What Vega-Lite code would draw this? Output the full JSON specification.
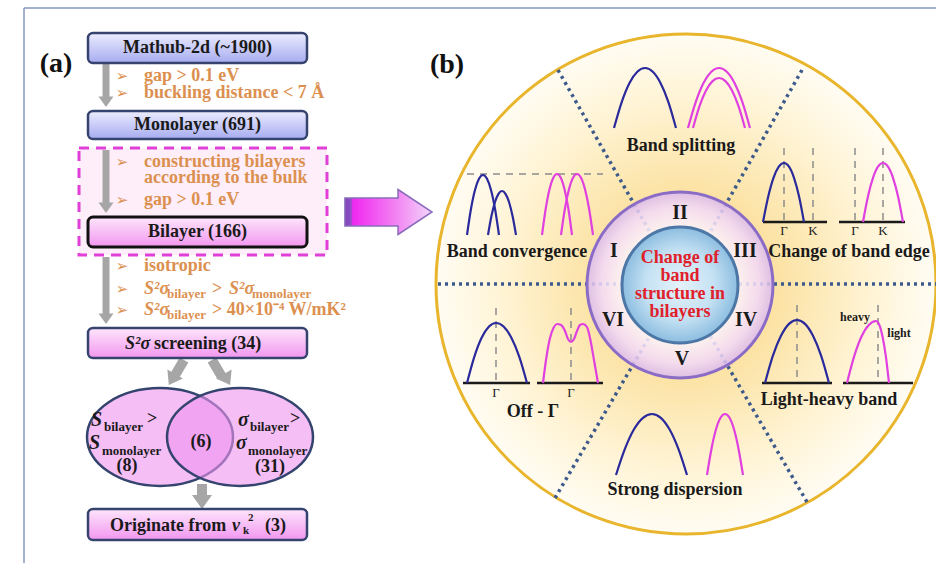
{
"$schema": "https://vega.github.io/schema/vega-lite/v6.json",
"width": 936, "height": 563, "padding": 0, "autosize": {"type": "none"},
"background": "white",
"config": {"view": {"stroke": null}},
"datasets": {
"frame": [{"x":24,"y":8,"x2":936,"y2":8},{"x":24,"y":8,"x2":24,"y2":563}],
"bigc": [{"x":686,"y":284}],
"ring": [{"x":680,"y":285}],
"core": [{"x":680,"y":285}],
"dividers": [{"x":558,"y":70,"x2":651,"y2":234},{"x":802,"y":70,"x2":709,"y2":234},{"x":555,"y":498,"x2":651,"y2":334},{"x":807,"y":502,"x2":709,"y2":334},{"x":438,"y":284,"x2":936,"y2":284}],
"dashbox": [{"x":79,"y":148,"x2":327,"y2":255}],
"blueboxes": [{"x":88,"y":33,"x2":307,"y2":63},{"x":88,"y":111,"x2":307,"y2":139}],
"bilbox": [{"x":88,"y":217,"x2":307,"y2":247}],
"pinkboxes": [{"x":88,"y":328,"x2":307,"y2":358},{"x":88,"y":509,"x2":307,"y2":540}],
"shafts": [{"x":106,"y":64,"x2":106,"y2":99},{"x":106,"y":150,"x2":106,"y2":205},{"x":106,"y":257,"x2":106,"y2":315}],
"shaftsWide": [{"x":184,"y":360,"x2":174,"y2":377},{"x":212,"y":360,"x2":222,"y2":377},{"x":202,"y":484,"x2":202,"y2":500}],
"heads": [{"x":106,"y":101.75},{"x":106,"y":207.75},{"x":106,"y":318.75}],
"headBottom": [{"x":202,"y":502}],
"headLeft": [{"x":172,"y":379.5}],
"headRight": [{"x":227,"y":379.5}],
"ellipses": [{"x":160,"y":437},{"x":240,"y":437}],
"bigArrow": [{"x":409.5,"y":212}],
"baselines": [{"x":763,"y":222,"x2":827,"y2":222},{"x":839,"y":222,"x2":905,"y2":222},{"x":463,"y":383,"x2":530,"y2":383},{"x":537,"y":383,"x2":603,"y2":383},{"x":762,"y":383,"x2":832,"y2":383},{"x":843,"y":383,"x2":913,"y2":383}],
"dashes": [{"x":784,"y":148,"x2":784,"y2":222},{"x":813,"y":148,"x2":813,"y2":222},{"x":855,"y":148,"x2":855,"y2":222},{"x":883,"y":148,"x2":883,"y2":222},{"x":496,"y":308,"x2":496,"y2":383},{"x":571,"y":308,"x2":571,"y2":383},{"x":797,"y":305,"x2":797,"y2":383},{"x":878,"y":305,"x2":878,"y2":383},{"x":467,"y":174,"x2":603,"y2":174}],
"bands": [
{"id":"A1","layer":"mono","x":614,"y":128},{"id":"A1","layer":"mono","x":621.8,"y":101.8},{"id":"A1","layer":"mono","x":629.5,"y":83},{"id":"A1","layer":"mono","x":637.3,"y":71.8},{"id":"A1","layer":"mono","x":645,"y":68},{"id":"A1","layer":"mono","x":652.8,"y":71.8},{"id":"A1","layer":"mono","x":660.5,"y":83},{"id":"A1","layer":"mono","x":668.3,"y":101.8},{"id":"A1","layer":"mono","x":676,"y":128},
{"id":"A2","layer":"bi","x":688,"y":128},{"id":"A2","layer":"bi","x":695.8,"y":101.8},{"id":"A2","layer":"bi","x":703.5,"y":83},{"id":"A2","layer":"bi","x":711.3,"y":71.8},{"id":"A2","layer":"bi","x":719,"y":68},{"id":"A2","layer":"bi","x":726.8,"y":71.8},{"id":"A2","layer":"bi","x":734.5,"y":83},{"id":"A2","layer":"bi","x":742.3,"y":101.8},{"id":"A2","layer":"bi","x":750,"y":128},
{"id":"A3","layer":"bi","x":693,"y":128},{"id":"A3","layer":"bi","x":699.5,"y":106.1},{"id":"A3","layer":"bi","x":706,"y":90.5},{"id":"A3","layer":"bi","x":712.5,"y":81.1},{"id":"A3","layer":"bi","x":719,"y":78},{"id":"A3","layer":"bi","x":725.5,"y":81.1},{"id":"A3","layer":"bi","x":732,"y":90.5},{"id":"A3","layer":"bi","x":738.5,"y":106.1},{"id":"A3","layer":"bi","x":745,"y":128},
{"id":"B1","layer":"mono","x":467,"y":235},{"id":"B1","layer":"mono","x":471,"y":208.8},{"id":"B1","layer":"mono","x":475,"y":190},{"id":"B1","layer":"mono","x":479,"y":178.8},{"id":"B1","layer":"mono","x":483,"y":175},{"id":"B1","layer":"mono","x":487,"y":178.8},{"id":"B1","layer":"mono","x":491,"y":190},{"id":"B1","layer":"mono","x":495,"y":208.8},{"id":"B1","layer":"mono","x":499,"y":235},
{"id":"B2","layer":"mono","x":488,"y":235},{"id":"B2","layer":"mono","x":491.5,"y":215.8},{"id":"B2","layer":"mono","x":495,"y":202},{"id":"B2","layer":"mono","x":498.5,"y":193.8},{"id":"B2","layer":"mono","x":502,"y":191},{"id":"B2","layer":"mono","x":505.5,"y":193.8},{"id":"B2","layer":"mono","x":509,"y":202},{"id":"B2","layer":"mono","x":512.5,"y":215.8},{"id":"B2","layer":"mono","x":516,"y":235},
{"id":"B3","layer":"bi","x":542,"y":235},{"id":"B3","layer":"bi","x":545.8,"y":208.3},{"id":"B3","layer":"bi","x":549.5,"y":189.3},{"id":"B3","layer":"bi","x":553.3,"y":177.8},{"id":"B3","layer":"bi","x":557,"y":174},{"id":"B3","layer":"bi","x":560.8,"y":177.8},{"id":"B3","layer":"bi","x":564.5,"y":189.3},{"id":"B3","layer":"bi","x":568.3,"y":208.3},{"id":"B3","layer":"bi","x":572,"y":235},
{"id":"B4","layer":"bi","x":561,"y":235},{"id":"B4","layer":"bi","x":565,"y":208.3},{"id":"B4","layer":"bi","x":569,"y":189.3},{"id":"B4","layer":"bi","x":573,"y":177.8},{"id":"B4","layer":"bi","x":577,"y":174},{"id":"B4","layer":"bi","x":581,"y":177.8},{"id":"B4","layer":"bi","x":585,"y":189.3},{"id":"B4","layer":"bi","x":589,"y":208.3},{"id":"B4","layer":"bi","x":593,"y":235},
{"id":"C1","layer":"mono","x":763,"y":222},{"id":"C1","layer":"mono","x":768.3,"y":196.2},{"id":"C1","layer":"mono","x":773.5,"y":177.8},{"id":"C1","layer":"mono","x":778.8,"y":166.7},{"id":"C1","layer":"mono","x":784,"y":163},{"id":"C1","layer":"mono","x":789,"y":166.7},{"id":"C1","layer":"mono","x":794,"y":177.8},{"id":"C1","layer":"mono","x":799,"y":196.2},{"id":"C1","layer":"mono","x":804,"y":222},
{"id":"C2","layer":"bi","x":863,"y":222},{"id":"C2","layer":"bi","x":868,"y":196.2},{"id":"C2","layer":"bi","x":873,"y":177.8},{"id":"C2","layer":"bi","x":878,"y":166.7},{"id":"C2","layer":"bi","x":883,"y":163},{"id":"C2","layer":"bi","x":888,"y":166.7},{"id":"C2","layer":"bi","x":893,"y":177.8},{"id":"C2","layer":"bi","x":898,"y":196.2},{"id":"C2","layer":"bi","x":903,"y":222},
{"id":"D1","layer":"mono","x":467,"y":383},{"id":"D1","layer":"mono","x":474.3,"y":356.8},{"id":"D1","layer":"mono","x":481.5,"y":338},{"id":"D1","layer":"mono","x":488.8,"y":326.8},{"id":"D1","layer":"mono","x":496,"y":323},{"id":"D1","layer":"mono","x":503.8,"y":326.8},{"id":"D1","layer":"mono","x":511.5,"y":338},{"id":"D1","layer":"mono","x":519.3,"y":356.8},{"id":"D1","layer":"mono","x":527,"y":383},
{"id":"D2","layer":"bi","x":543,"y":383},{"id":"D2","layer":"bi","x":546,"y":360},{"id":"D2","layer":"bi","x":550,"y":338},{"id":"D2","layer":"bi","x":554,"y":327},{"id":"D2","layer":"bi","x":557,"y":324},{"id":"D2","layer":"bi","x":561,"y":325},{"id":"D2","layer":"bi","x":565,"y":331},{"id":"D2","layer":"bi","x":568,"y":339},{"id":"D2","layer":"bi","x":571,"y":342},{"id":"D2","layer":"bi","x":574,"y":339},{"id":"D2","layer":"bi","x":577,"y":331},{"id":"D2","layer":"bi","x":580,"y":325},{"id":"D2","layer":"bi","x":583,"y":324},{"id":"D2","layer":"bi","x":587,"y":327},{"id":"D2","layer":"bi","x":590,"y":338},{"id":"D2","layer":"bi","x":594,"y":360},{"id":"D2","layer":"bi","x":598,"y":383},
{"id":"E1","layer":"mono","x":765,"y":383},{"id":"E1","layer":"mono","x":773,"y":355.4},{"id":"E1","layer":"mono","x":781,"y":335.8},{"id":"E1","layer":"mono","x":789,"y":323.9},{"id":"E1","layer":"mono","x":797,"y":320},{"id":"E1","layer":"mono","x":805,"y":323.9},{"id":"E1","layer":"mono","x":813,"y":335.8},{"id":"E1","layer":"mono","x":821,"y":355.4},{"id":"E1","layer":"mono","x":829,"y":383},
{"id":"E2","layer":"bi","x":847,"y":383},{"id":"E2","layer":"bi","x":854.3,"y":355.9},{"id":"E2","layer":"bi","x":861.5,"y":336.5},{"id":"E2","layer":"bi","x":868.8,"y":324.9},{"id":"E2","layer":"bi","x":876,"y":321},{"id":"E2","layer":"bi","x":879.3,"y":324.9},{"id":"E2","layer":"bi","x":882.5,"y":336.5},{"id":"E2","layer":"bi","x":885.8,"y":355.9},{"id":"E2","layer":"bi","x":889,"y":383},
{"id":"F1","layer":"mono","x":616,"y":475},{"id":"F1","layer":"mono","x":625,"y":448.7},{"id":"F1","layer":"mono","x":634,"y":429.3},{"id":"F1","layer":"mono","x":643,"y":417.8},{"id":"F1","layer":"mono","x":652,"y":414},{"id":"F1","layer":"mono","x":660.8,"y":417.8},{"id":"F1","layer":"mono","x":669.5,"y":429.3},{"id":"F1","layer":"mono","x":678.3,"y":448.7},{"id":"F1","layer":"mono","x":687,"y":475},
{"id":"F2","layer":"bi","x":707,"y":475},{"id":"F2","layer":"bi","x":711.5,"y":448.7},{"id":"F2","layer":"bi","x":716,"y":429.3},{"id":"F2","layer":"bi","x":720.5,"y":417.8},{"id":"F2","layer":"bi","x":725,"y":414},{"id":"F2","layer":"bi","x":729.5,"y":417.8},{"id":"F2","layer":"bi","x":734,"y":429.3},{"id":"F2","layer":"bi","x":738.5,"y":448.7},{"id":"F2","layer":"bi","x":743,"y":475}
],
"labels18": [{"x":197.5,"y":48,"t":"Mathub-2d (~1900)"},{"x":197.5,"y":125,"t":"Monolayer (691)"},{"x":197.5,"y":232,"t":"Bilayer (166)"},{"x":201,"y":442,"t":"(6)"},{"x":127,"y":466,"t":"(8)"},{"x":270,"y":467,"t":"(31)"},{"x":681,"y":146,"t":"Band splitting"},{"x":517,"y":252,"t":"Band convergence"},{"x":849,"y":252,"t":"Change of band edge"},{"x":533,"y":412,"t":"Off - Γ"},{"x":829,"y":400,"t":"Light-heavy band"},{"x":675,"y":490,"t":"Strong dispersion"}],
"left18": [{"x":154,"y":344,"t":"screening (34)"},{"x":110,"y":526,"t":"Originate from"},{"x":265,"y":526,"t":"(3)"},{"x":147,"y":419,"t":">"},{"x":290,"y":419,"t":">"}],
"italic20": [{"x":91,"y":420,"t":"S"},{"x":89,"y":443,"t":"S"},{"x":238,"y":420,"t":"σ"},{"x":236,"y":443,"t":"σ"}],
"italic18": [{"x":125,"y":344,"t":"S²σ"},{"x":232,"y":526,"t":"ν"}],
"sub13": [{"x":104,"y":427,"t":"bilayer"},{"x":102,"y":451,"t":"monolayer"},{"x":250,"y":427,"t":"bilayer"},{"x":248,"y":451,"t":"monolayer"}],
"tiny12": [{"x":243,"y":531,"t":"k"},{"x":248,"y":518,"t":"2"}],
"bullets": [{"x":122,"y":76,"t":"➢"},{"x":122,"y":93,"t":"➢"},{"x":122,"y":162,"t":"➢"},{"x":122,"y":200,"t":"➢"},{"x":122,"y":266,"t":"➢"},{"x":122,"y":289,"t":"➢"},{"x":122,"y":310,"t":"➢"}],
"orange18": [{"x":144,"y":76,"t":"gap > 0.1 eV"},{"x":144,"y":93,"t":"buckling distance < 7 Å"},{"x":144,"y":162,"t":"constructing bilayers"},{"x":144,"y":178,"t":"according to the bulk"},{"x":144,"y":200,"t":"gap > 0.1 eV"},{"x":144,"y":266,"t":"isotropic"},{"x":212,"y":289,"t":">"},{"x":212,"y":310,"t":"> 40×10⁻⁴ W/mK²"}],
"orangeItalic": [{"x":144,"y":289,"t":"S²σ"},{"x":229,"y":289,"t":"S²σ"},{"x":144,"y":310,"t":"S²σ"}],
"orangeSub": [{"x":167,"y":294,"t":"bilayer"},{"x":252,"y":294,"t":"monolayer"},{"x":167,"y":315,"t":"bilayer"}],
"panels": [{"x":56,"y":64,"t":"(a)"},{"x":447,"y":65,"t":"(b)"}],
"roman": [{"x":680,"y":213,"t":"II"},{"x":614,"y":251,"t":"I"},{"x":745,"y":251,"t":"III"},{"x":613,"y":320,"t":"VI"},{"x":746,"y":320,"t":"IV"},{"x":682,"y":359,"t":"V"}],
"center": [{"x":680,"y":258,"t":"Change of"},{"x":680,"y":276,"t":"band"},{"x":680,"y":294,"t":"structure in"},{"x":680,"y":312,"t":"bilayers"}],
"kpts": [{"x":784,"y":231,"t":"Γ"},{"x":813,"y":231,"t":"K"},{"x":855,"y":231,"t":"Γ"},{"x":883,"y":231,"t":"K"},{"x":496,"y":393,"t":"Γ"},{"x":571,"y":393,"t":"Γ"}],
"hl": [{"x":855,"y":317,"t":"heavy"},{"x":899,"y":333,"t":"light"}]
},
"encoding": {
"x": {"field":"x","type":"quantitative","scale":{"domain":[0,936],"nice":false,"zero":false},"axis":null},
"y": {"field":"y","type":"quantitative","scale":{"domain":[0,563],"nice":false,"zero":false,"reverse":true},"axis":null}
},
"layer": [
{"data":{"name":"frame"},"mark":{"type":"rule","color":"#8496c6","strokeWidth":1.5},"encoding":{"x2":{"field":"x2"},"y2":{"field":"y2"}}},
{"data":{"name":"bigc"},"mark":{"type":"point","shape":"circle","size":250000,"filled":true,"opacity":1,"fill":{"gradient":"radial","stops":[{"offset":0,"color":"#f8cf78"},{"offset":0.4,"color":"#fce4a8"},{"offset":0.75,"color":"#fff4d6"},{"offset":1,"color":"#fffcf3"}]},"stroke":"#e8b52c","strokeWidth":3}},
{"data":{"name":"dividers"},"mark":{"type":"rule","color":"#3e5a8c","strokeWidth":3.5,"strokeDash":[3,4]},"encoding":{"x2":{"field":"x2"},"y2":{"field":"y2"}}},
{"data":{"name":"ring"},"mark":{"type":"point","shape":"circle","size":34596,"filled":true,"opacity":1,"fillOpacity":0.85,"fill":{"gradient":"radial","stops":[{"offset":0,"color":"#ffffff"},{"offset":0.62,"color":"#fdf6fe"},{"offset":0.85,"color":"#f2d9fa"},{"offset":1,"color":"#d9b8ee"}]},"stroke":"#8a6cc6","strokeWidth":3}},
{"data":{"name":"core"},"mark":{"type":"point","shape":"circle","size":13456,"filled":true,"opacity":1,"fill":{"gradient":"radial","stops":[{"offset":0,"color":"#e4f2fa"},{"offset":0.6,"color":"#c4e1f3"},{"offset":1,"color":"#8cbde0"}]},"stroke":"#4c77a6","strokeWidth":3}},
{"data":{"name":"dashbox"},"mark":{"type":"rect","fill":"#fdeefa","stroke":"#e040d8","strokeWidth":3,"strokeDash":[10,7]},"encoding":{"x2":{"field":"x2"},"y2":{"field":"y2"}}},
{"data":{"name":"shafts"},"mark":{"type":"rule","color":"#a6a6a6","strokeWidth":7},"encoding":{"x2":{"field":"x2"},"y2":{"field":"y2"}}},
{"data":{"name":"shaftsWide"},"mark":{"type":"rule","color":"#a6a6a6","strokeWidth":10},"encoding":{"x2":{"field":"x2"},"y2":{"field":"y2"}}},
{"data":{"name":"heads"},"mark":{"type":"point","shape":"M -1 -0.7 L 1 -0.7 L 0 0.7 Z","size":225,"filled":true,"opacity":1,"color":"#a6a6a6"}},
{"data":{"name":"headBottom"},"mark":{"type":"point","shape":"M -1 -0.7 L 1 -0.7 L 0 0.7 Z","size":400,"filled":true,"opacity":1,"color":"#a6a6a6"}},
{"data":{"name":"headLeft"},"mark":{"type":"point","shape":"M -1 -0.7 L 1 -0.7 L 0 0.7 Z","size":324,"angle":30,"filled":true,"opacity":1,"color":"#a6a6a6"}},
{"data":{"name":"headRight"},"mark":{"type":"point","shape":"M -1 -0.7 L 1 -0.7 L 0 0.7 Z","size":324,"angle":-30,"filled":true,"opacity":1,"color":"#a6a6a6"}},
{"data":{"name":"blueboxes"},"mark":{"type":"rect","cornerRadius":5,"fill":{"gradient":"linear","x1":0,"y1":0,"x2":0,"y2":1,"stops":[{"offset":0,"color":"#ececfe"},{"offset":1,"color":"#a6acf0"}]},"stroke":"#35436e","strokeWidth":2.5},"encoding":{"x2":{"field":"x2"},"y2":{"field":"y2"}}},
{"data":{"name":"bilbox"},"mark":{"type":"rect","cornerRadius":5,"fill":{"gradient":"linear","x1":0,"y1":0,"x2":0,"y2":1,"stops":[{"offset":0,"color":"#fde6fc"},{"offset":1,"color":"#f296ef"}]},"stroke":"#111111","strokeWidth":3},"encoding":{"x2":{"field":"x2"},"y2":{"field":"y2"}}},
{"data":{"name":"pinkboxes"},"mark":{"type":"rect","cornerRadius":5,"fill":{"gradient":"linear","x1":0,"y1":0,"x2":0,"y2":1,"stops":[{"offset":0,"color":"#fde6fc"},{"offset":1,"color":"#f296ef"}]},"stroke":"#35436e","strokeWidth":2.5},"encoding":{"x2":{"field":"x2"},"y2":{"field":"y2"}}},
{"data":{"name":"ellipses"},"mark":{"type":"point","shape":"M -1 0 A 1 0.67 0 1 1 1 0 A 1 0.67 0 1 1 -1 0 Z","size":21316,"filled":true,"opacity":1,"fill":"#ee92ee","fillOpacity":0.6,"stroke":"#34446e","strokeWidth":2.5,"strokeOpacity":1}},
{"data":{"name":"bigArrow"},"mark":{"type":"point","shape":"M -2.87 -0.62 L -0.51 -0.62 L -0.51 -1 L 1 0 L -0.51 1 L -0.51 0.62 L -2.87 0.62 Z","size":2025,"filled":true,"opacity":1,"fill":{"gradient":"linear","x1":0,"y1":0,"x2":1,"y2":0,"stops":[{"offset":0,"color":"#7c46b8"},{"offset":0.07,"color":"#9050c8"},{"offset":0.09,"color":"#f028f0"},{"offset":0.55,"color":"#f27cf2"},{"offset":1,"color":"#f3d6fa"}]},"stroke":"#8a6cbc","strokeWidth":1.5}},
{"data":{"name":"baselines"},"mark":{"type":"rule","color":"#1a1a1a","strokeWidth":2.5},"encoding":{"x2":{"field":"x2"},"y2":{"field":"y2"}}},
{"data":{"name":"dashes"},"mark":{"type":"rule","color":"#8c8c8c","strokeWidth":1.5,"strokeDash":[7,6]},"encoding":{"x2":{"field":"x2"},"y2":{"field":"y2"}}},
{"data":{"name":"bands"},"mark":{"type":"line","interpolate":"monotone","strokeWidth":2.2},"encoding":{"detail":{"field":"id"},"color":{"field":"layer","type":"nominal","scale":{"domain":["mono","bi"],"range":["#2a2a9c","#e040e0"]},"legend":null}}},
{"data":{"name":"labels18"},"mark":{"type":"text","font":"Liberation Serif","fontWeight":"bold","fontSize":18,"align":"center","baseline":"middle","color":"#1a1a1a"},"encoding":{"text":{"field":"t"}}},
{"data":{"name":"left18"},"mark":{"type":"text","font":"Liberation Serif","fontWeight":"bold","fontSize":18,"align":"left","baseline":"middle","color":"#1a1a1a"},"encoding":{"text":{"field":"t"}}},
{"data":{"name":"italic20"},"mark":{"type":"text","font":"Liberation Serif","fontWeight":"bold","fontStyle":"italic","fontSize":20,"align":"left","baseline":"middle","color":"#1a1a1a"},"encoding":{"text":{"field":"t"}}},
{"data":{"name":"italic18"},"mark":{"type":"text","font":"Liberation Serif","fontWeight":"bold","fontStyle":"italic","fontSize":18,"align":"left","baseline":"middle","color":"#1a1a1a"},"encoding":{"text":{"field":"t"}}},
{"data":{"name":"sub13"},"mark":{"type":"text","font":"Liberation Serif","fontWeight":"bold","fontSize":13,"align":"left","baseline":"middle","color":"#1a1a1a"},"encoding":{"text":{"field":"t"}}},
{"data":{"name":"tiny12"},"mark":{"type":"text","font":"Liberation Serif","fontWeight":"bold","fontSize":11,"align":"left","baseline":"middle","color":"#1a1a1a"},"encoding":{"text":{"field":"t"}}},
{"data":{"name":"bullets"},"mark":{"type":"text","font":"DejaVu Sans","fontWeight":"bold","fontSize":15,"align":"center","baseline":"middle","color":"#dc9050"},"encoding":{"text":{"field":"t"}}},
{"data":{"name":"orange18"},"mark":{"type":"text","font":"Liberation Serif","fontWeight":"bold","fontSize":18,"align":"left","baseline":"middle","color":"#dc9050"},"encoding":{"text":{"field":"t"}}},
{"data":{"name":"orangeItalic"},"mark":{"type":"text","font":"Liberation Serif","fontWeight":"bold","fontStyle":"italic","fontSize":18,"align":"left","baseline":"middle","color":"#dc9050"},"encoding":{"text":{"field":"t"}}},
{"data":{"name":"orangeSub"},"mark":{"type":"text","font":"Liberation Serif","fontWeight":"bold","fontSize":13,"align":"left","baseline":"middle","color":"#dc9050"},"encoding":{"text":{"field":"t"}}},
{"data":{"name":"panels"},"mark":{"type":"text","font":"Liberation Serif","fontWeight":"bold","fontSize":28,"align":"center","baseline":"middle","color":"#111111"},"encoding":{"text":{"field":"t"}}},
{"data":{"name":"roman"},"mark":{"type":"text","font":"Liberation Serif","fontWeight":"bold","fontSize":20,"align":"center","baseline":"middle","color":"#1a1a1a"},"encoding":{"text":{"field":"t"}}},
{"data":{"name":"center"},"mark":{"type":"text","font":"Liberation Serif","fontWeight":"bold","fontSize":18,"align":"center","baseline":"middle","color":"#e0202a"},"encoding":{"text":{"field":"t"}}},
{"data":{"name":"kpts"},"mark":{"type":"text","font":"Liberation Serif","fontSize":13,"align":"center","baseline":"middle","color":"#1a1a1a"},"encoding":{"text":{"field":"t"}}},
{"data":{"name":"hl"},"mark":{"type":"text","font":"Liberation Serif","fontWeight":"bold","fontSize":12,"align":"center","baseline":"middle","color":"#1a1a1a"},"encoding":{"text":{"field":"t"}}}
]
}
